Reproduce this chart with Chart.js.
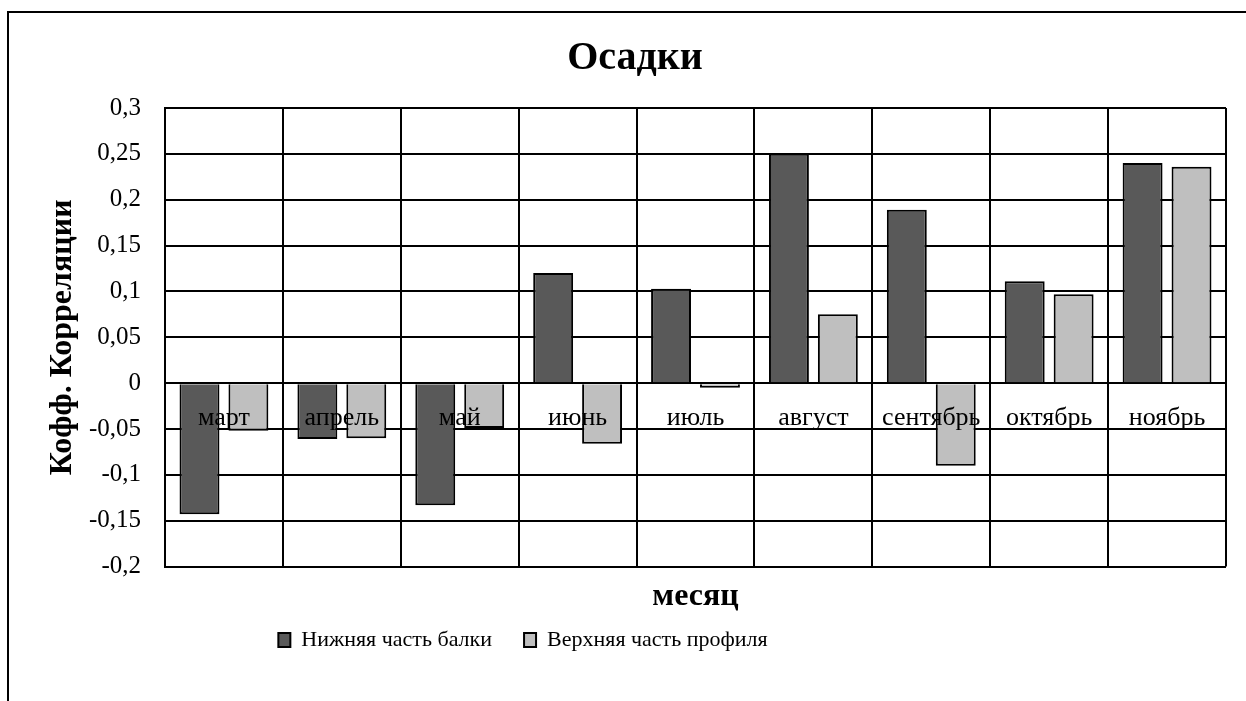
<!DOCTYPE html>
<html>
<head>
<meta charset="utf-8">
<script src="https://cdn.jsdelivr.net/npm/chart.js@4.4.1/dist/chart.umd.min.js"></script>
<style>
  html, body { margin: 0; padding: 0; background: #fff; overflow: hidden; }
  #frame {
    position: absolute; left: 7px; top: 11px; width: 1300px; height: 800px;
    border-left: 2px solid #000; border-top: 2px solid #000;
  }
  #wrap { position: absolute; left: 0; top: 0; width: 1246px; height: 701px; }
</style>
</head>
<body>
<div id="frame"></div>
<div id="wrap"><canvas id="chart" width="1246" height="701"></canvas></div>
<script>
// Данные
const months = ['март', 'апрель', 'май', 'июнь', 'июль', 'август', 'сентябрь', 'октябрь', 'ноябрь'];
const lowerBeam = [-0.143, -0.061, -0.133, 0.120, 0.103, 0.250, 0.189, 0.111, 0.240];
const upperProfile = [-0.052, -0.060, -0.049, -0.066, -0.005, 0.075, -0.090, 0.097, 0.236];
const yTicks = [-0.2, -0.15, -0.1, -0.05, 0, 0.05, 0.1, 0.15, 0.2, 0.25, 0.3];

const serif = "'Liberation Serif', 'Times New Roman', serif";
Chart.defaults.font.family = serif;
Chart.defaults.color = '#000';

function fmt(v) {
    return String(Math.round(v * 100) / 100).replace('.', ',');
}

// Сдвиг легенды (как в исходной картинке — левее центра)
const legendShift = {
    id: 'legendShift',
    afterLayout(chart) {
        const lg = chart.legend;
        lg.left -= 224;
        lg.top -= 19;
        lg.bottom -= 19;
    }
};

const ctx = document.getElementById('chart').getContext('2d');
new Chart(ctx, {
    type: 'bar',
    data: {
        labels: months,
        datasets: [{
            label: 'Нижняя часть балки',
            data: lowerBeam,
            backgroundColor: '#595959',
            borderColor: '#000',
            borderWidth: 2,
            categoryPercentage: 0.83,
            barPercentage: 0.816
        }, {
            label: 'Верхняя часть профиля',
            data: upperProfile,
            backgroundColor: '#bfbfbf',
            borderColor: '#000',
            borderWidth: 2,
            categoryPercentage: 0.83,
            barPercentage: 0.816
        }]
    },
    plugins: [legendShift],
    options: {
        responsive: false,
        animation: false,
        layout: { padding: { left: 44, right: 20, top: 0, bottom: 21 } },
        plugins: {
            title: {
                display: true,
                text: 'Осадки',
                font: { size: 40, weight: 'bold' },
                padding: { top: 35, bottom: 25 }
            },
            legend: {
                position: 'bottom',
                labels: {
                    boxWidth: 12,
                    boxHeight: 14,
                    padding: 32,
                    font: { size: 22 },
                    color: '#000'
                }
            },
            tooltip: { enabled: false }
        },
        scales: {
            x: {
                position: { y: 0 },
                grid: { color: '#000', lineWidth: 2, drawTicks: false, offset: true },
                border: { color: '#000', width: 2 },
                ticks: { font: { size: 26 }, padding: 19, z: 1, maxRotation: 0, autoSkip: false }
            },
            x2: {
                type: 'category',
                position: 'bottom',
                labels: months,
                grid: { display: false, drawTicks: false },
                border: { display: false },
                ticks: { display: false },
                title: {
                    display: true,
                    text: 'месяц',
                    font: { size: 32, weight: 'bold' },
                    padding: { top: 11, bottom: 0 }
                }
            },
            y: {
                min: -0.2,
                max: 0.3,
                afterBuildTicks: (scale) => {
                    scale.ticks = yTicks.map(v => ({ value: v }));
                },
                afterFit: (scale) => { scale.width = 121; },
                grid: { color: '#000', lineWidth: 2, drawTicks: false },
                border: { color: '#000', width: 2 },
                ticks: {
                    font: { size: 25 },
                    padding: 24,
                    callback: (value) => fmt(value)
                },
                title: {
                    display: true,
                    text: 'Кофф. Корреляции',
                    font: { size: 32, weight: 'bold' },
                    padding: { top: 0, bottom: 0 }
                }
            }
        }
    }
});
</script>
</body>
</html>
